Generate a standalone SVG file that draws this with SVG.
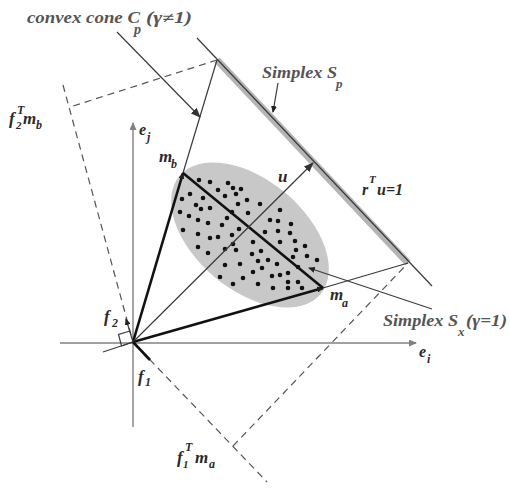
<svg xmlns="http://www.w3.org/2000/svg" width="510" height="488" viewBox="0 0 510 488">
<style>
.ax{stroke:#808080;stroke-width:1.4;fill:none}
.ln{stroke:#3a3a3a;stroke-width:1.2;fill:none}
.th{stroke:#111;stroke-width:2.6;fill:none}
.ds{stroke:#555;stroke-width:1.2;fill:none;stroke-dasharray:7 5}
.lb{font-family:"Liberation Serif",serif;font-style:italic;font-weight:bold;fill:#2a2a2a}
.gl{font-family:"Liberation Serif",serif;font-style:italic;font-weight:bold;fill:#555}
.dot{fill:#111}
</style>
<defs>
<marker id="ah" markerWidth="10" markerHeight="8" refX="9" refY="4" orient="auto" markerUnits="userSpaceOnUse"><path d="M0,0 L10,4 L0,8 z" fill="#333"/></marker>
<marker id="ahs" markerWidth="7" markerHeight="6" refX="6" refY="3" orient="auto" markerUnits="userSpaceOnUse"><path d="M0,0 L7,3 L0,6 z" fill="#222"/></marker>
<marker id="aha" markerWidth="8" markerHeight="7" refX="7" refY="3.5" orient="auto" markerUnits="userSpaceOnUse"><path d="M0,0 L8,3.5 L0,7 z" fill="#808080"/></marker>
</defs>
<rect width="510" height="488" fill="#fff"/>

<g id="ellipse-data">
<ellipse cx="250" cy="235" rx="92" ry="55" transform="rotate(40 250 235)" fill="#c8c8c8"/>
<g class="dot">
<circle cx="199" cy="180" r="2.3"/><circle cx="210" cy="182" r="2.3"/><circle cx="228" cy="183" r="2.3"/>
<circle cx="218" cy="190" r="2.3"/><circle cx="233" cy="188" r="2.3"/><circle cx="241" cy="189" r="2.3"/>
<circle cx="190" cy="194" r="2.3"/><circle cx="203" cy="198" r="2.3"/><circle cx="225" cy="196" r="2.3"/>
<circle cx="236" cy="194" r="2.3"/><circle cx="182" cy="199" r="2.3"/><circle cx="247" cy="200" r="2.3"/>
<circle cx="238" cy="204" r="2.3"/><circle cx="260" cy="204" r="2.3"/><circle cx="196" cy="205" r="2.3"/>
<circle cx="201" cy="209" r="2.3"/><circle cx="210" cy="208" r="2.3"/><circle cx="232" cy="212" r="2.3"/>
<circle cx="180" cy="212" r="2.3"/><circle cx="189" cy="216" r="2.3"/><circle cx="198" cy="220" r="2.3"/>
<circle cx="208" cy="223" r="2.3"/><circle cx="227" cy="218" r="2.3"/><circle cx="248" cy="213" r="2.3"/>
<circle cx="280" cy="210" r="2.3"/><circle cx="270" cy="220" r="2.3"/><circle cx="278" cy="221" r="2.3"/>
<circle cx="291" cy="224" r="2.3"/><circle cx="183" cy="230" r="2.3"/><circle cx="198" cy="234" r="2.3"/>
<circle cx="210" cy="238" r="2.3"/><circle cx="218" cy="237" r="2.3"/><circle cx="222" cy="225" r="2.3"/>
<circle cx="232" cy="235" r="2.3"/><circle cx="239" cy="229" r="2.3"/><circle cx="233" cy="244" r="2.3"/>
<circle cx="265" cy="232" r="2.3"/><circle cx="278" cy="231" r="2.3"/><circle cx="290" cy="233" r="2.3"/>
<circle cx="253" cy="242" r="2.3"/><circle cx="280" cy="242" r="2.3"/><circle cx="295" cy="241" r="2.3"/>
<circle cx="198" cy="247" r="2.3"/><circle cx="225" cy="249" r="2.3"/><circle cx="236" cy="250" r="2.3"/>
<circle cx="252" cy="254" r="2.3"/><circle cx="261" cy="251" r="2.3"/><circle cx="305" cy="246" r="2.3"/>
<circle cx="296" cy="250" r="2.3"/><circle cx="208" cy="253" r="2.3"/><circle cx="293" cy="257" r="2.3"/>
<circle cx="307" cy="256" r="2.3"/><circle cx="317" cy="260" r="2.3"/><circle cx="258" cy="261" r="2.3"/>
<circle cx="268" cy="260" r="2.3"/><circle cx="277" cy="264" r="2.3"/><circle cx="225" cy="265" r="2.3"/>
<circle cx="240" cy="264" r="2.3"/><circle cx="262" cy="268" r="2.3"/><circle cx="253" cy="272" r="2.3"/>
<circle cx="272" cy="276" r="2.3"/><circle cx="280" cy="275" r="2.3"/><circle cx="288" cy="273" r="2.3"/>
<circle cx="298" cy="267" r="2.3"/><circle cx="220" cy="277" r="2.3"/><circle cx="243" cy="278" r="2.3"/>
<circle cx="288" cy="282" r="2.3"/><circle cx="298" cy="282" r="2.3"/><circle cx="233" cy="284" r="2.3"/>
<circle cx="258" cy="284" r="2.3"/><circle cx="273" cy="288" r="2.3"/><circle cx="288" cy="288" r="2.3"/>
<circle cx="302" cy="288" r="2.3"/>
</g>
</g>

<g id="axes">
<line class="ax" x1="60" y1="343" x2="416" y2="343" marker-end="url(#aha)"/>
<line class="ax" x1="133" y1="427" x2="133" y2="123" marker-end="url(#aha)"/>
</g>

<g id="simplex-Sp">
<line x1="217" y1="60" x2="408" y2="263" stroke="#b4b4b4" stroke-width="7"/>
<line class="ln" x1="197" y1="38" x2="432" y2="286"/>
</g>

<g id="dashed-levels">
<line class="ds" x1="217" y1="60" x2="70" y2="107"/>
<line class="ds" x1="63" y1="85" x2="133" y2="342"/>
<line class="ds" x1="133" y1="342" x2="267" y2="482"/>
<line class="ds" x1="233" y1="446" x2="408" y2="263"/>
</g>

<g id="cone">
<line class="ln" x1="183" y1="173" x2="217" y2="60"/>
<line class="ln" x1="323" y1="288" x2="408" y2="263"/>
<line class="ln" x1="133" y1="342" x2="103" y2="352"/>
<path class="ln" d="M133,342 L121.5,346 L118.5,334.5 L130,331"/>
</g>

<g id="connectors">
<line class="th" x1="133" y1="342" x2="183" y2="173" marker-end="url(#ahs)"/>
<line class="th" x1="133" y1="342" x2="323" y2="288" marker-end="url(#ahs)"/>
<line class="th" x1="183" y1="173" x2="323" y2="288"/>
<line class="ln" x1="133" y1="342" x2="313" y2="163" stroke-width="1.4" marker-end="url(#ah)"/>
<line class="ln" x1="133" y1="342" x2="126" y2="319" marker-end="url(#ahs)"/>
<line class="th" x1="133" y1="342" x2="150" y2="360" stroke-width="2.2"/>
<line class="ln" x1="117" y1="32" x2="200" y2="117" marker-end="url(#ah)"/>
<line class="ln" x1="278" y1="83" x2="273" y2="112" marker-end="url(#ahs)"/>
<line class="ln" x1="432" y1="309" x2="309" y2="268" marker-end="url(#ahs)"/>
</g>

<g id="labels">
<g id="lbl-cone"><text class="gl" x="27" y="23" font-size="16" textLength="113" lengthAdjust="spacingAndGlyphs">convex cone C</text><text class="gl" x="134" y="34" font-size="14">p</text><text class="gl" x="146" y="23" font-size="16" textLength="46" lengthAdjust="spacingAndGlyphs">(γ≠1)</text></g>
<g id="lbl-sp"><text class="gl" x="262" y="78" font-size="16" textLength="75" lengthAdjust="spacingAndGlyphs">Simplex S</text><text class="gl" x="336" y="88" font-size="13">p</text></g>
<g id="lbl-ru"><text class="lb" x="362" y="195" font-size="16">r</text><text class="lb" x="369" y="183" font-size="11">T</text><text class="lb" x="377" y="195" font-size="16">u=1</text></g>
<g id="lbl-sx"><text class="gl" x="383" y="326" font-size="16" textLength="75" lengthAdjust="spacingAndGlyphs">Simplex S</text><text class="gl" x="458" y="336" font-size="13">x</text><text class="gl" x="466" y="326" font-size="16" textLength="41" lengthAdjust="spacingAndGlyphs">(γ=1)</text></g>
<g id="lbl-mb"><text class="lb" x="159" y="162" font-size="17">m</text><text class="lb" x="171" y="168" font-size="12">b</text></g>
<g id="lbl-ma"><text class="lb" x="330" y="300" font-size="17">m</text><text class="lb" x="342" y="307" font-size="12">a</text></g>
<g id="lbl-u"><text class="lb" x="278" y="182" font-size="17">u</text></g>
<g id="lbl-ej"><text class="lb" x="139" y="135" font-size="16">e</text><text class="lb" x="147" y="141" font-size="12">j</text></g>
<g id="lbl-ei"><text class="lb" x="419" y="357" font-size="16">e</text><text class="lb" x="427" y="363" font-size="12">i</text></g>
<g id="lbl-f2"><text class="lb" x="104" y="322" font-size="17">f</text><text class="lb" x="112" y="327" font-size="12">2</text></g>
<g id="lbl-f1"><text class="lb" x="138" y="382" font-size="17">f</text><text class="lb" x="145" y="386" font-size="12">1</text></g>
<g id="lbl-f2mb"><text class="lb" x="9" y="124" font-size="17">f</text><text class="lb" x="17" y="114" font-size="12">T</text><text class="lb" x="16" y="129" font-size="11">2</text><text class="lb" x="23" y="124" font-size="17">m</text><text class="lb" x="36" y="129" font-size="12">b</text></g>
<g id="lbl-f1ma"><text class="lb" x="177" y="463" font-size="17">f</text><text class="lb" x="185" y="451" font-size="12">T</text><text class="lb" x="183" y="468" font-size="11">1</text><text class="lb" x="195" y="463" font-size="17">m</text><text class="lb" x="209" y="468" font-size="12">a</text></g>
</g>
</svg>
